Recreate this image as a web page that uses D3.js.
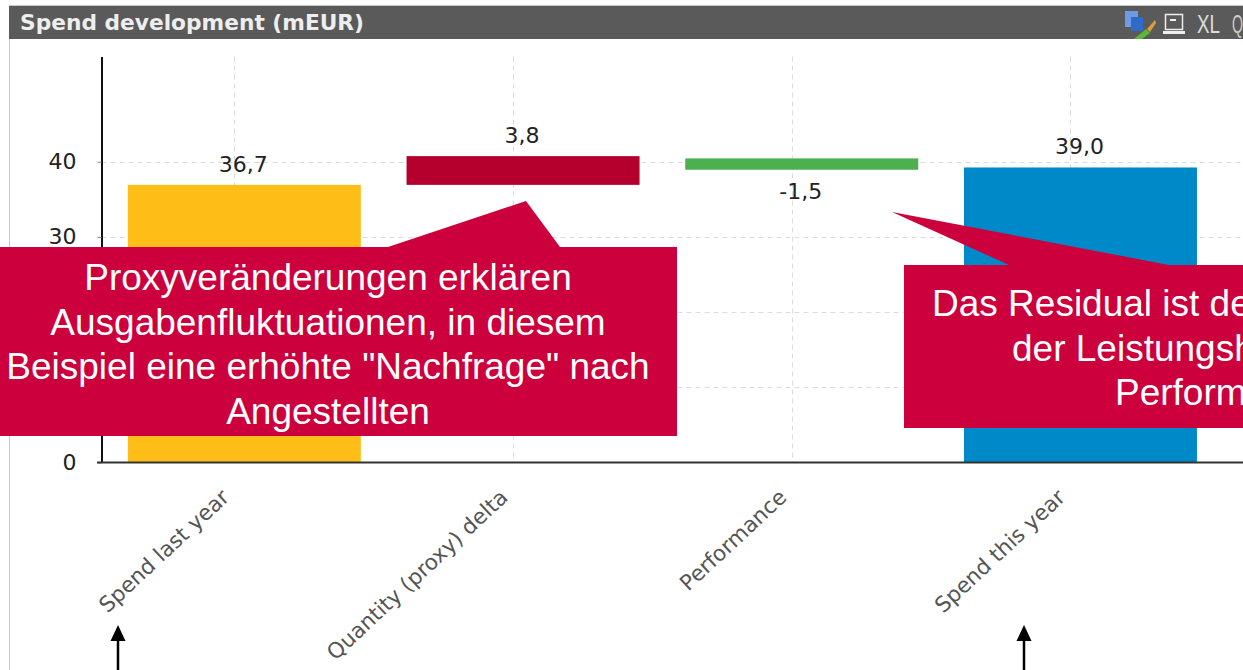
<!DOCTYPE html>
<html>
<head>
<meta charset="utf-8">
<script src="https://cdnjs.cloudflare.com/ajax/libs/d3/7.8.5/d3.min.js"></script>
<style>
  html, body { margin: 0; padding: 0; background: #fff; overflow: hidden; }
  svg { display: block; }
</style>
</head>
<body>
<div id="content"></div>
<script>
const categories = ["Spend last year", "Quantity (proxy) delta", "Performance", "Spend this year"]
const barStarts = [0, 36.7, 40.2, 0]
const barEnds = [36.7, 40.5, 38.7, 39.0]
const barLabels = ["36,7", "3,8", "-1,5", "39,0"]
const barColors = ["#ffbe17", "#b5002d", "#4caf50", "#0089c8"]
const gridTicks = [10, 20, 30, 40]
// 10 and 20 are hidden behind the callouts
const labelledTicks = [0, 30, 40]

const outerWidth = 1243
const outerHeight = 670
const calloutColor = "#cc003d"
const labelFont = "'DejaVu Sans', sans-serif"
const calloutFont = "'Liberation Sans', Arial, sans-serif"

const svg = d3.select("#content").append("svg")
    .attr("width", outerWidth)
    .attr("height", outerHeight)

// frame + title bar
svg.append("rect")
    .attr("x", 9.5)
    .attr("y", 5.5)
    .attr("width", outerWidth)
    .attr("height", outerHeight)
    .attr("fill", "#fff")
    .attr("stroke", "#c8c8c8")
svg.append("rect")
    .attr("x", 9)
    .attr("y", 6)
    .attr("width", outerWidth - 9)
    .attr("height", 33)
    .attr("fill", "#5a5a5a")
svg.append("text")
    .attr("x", 20)
    .attr("y", 30)
    .attr("fill", "#eee")
    .style("font-family", labelFont)
    .style("font-size", "21.5px")
    .style("font-weight", "700")
    .attr("textLength", 344)
    .attr("lengthAdjust", "spacingAndGlyphs")
    .text("Spend development (mEUR)")

// title bar icons
const icons = svg.append("g")
icons.append("rect").attr("x", 1125).attr("y", 11).attr("width", 13).attr("height", 16).attr("fill", "#6f9ae6")
icons.append("rect").attr("x", 1131).attr("y", 17).attr("width", 12).attr("height", 14).attr("fill", "#2f6cc8")
icons.append("path").attr("d", "M1134 39L1146 29L1150 33L1142 39Z").attr("fill", "#5cb832")
icons.append("path").attr("d", "M1147 29L1155 20L1156 23L1150 32Z").attr("fill", "#d8a040")
icons.append("rect").attr("x", 1165.5).attr("y", 14.5).attr("width", 17).attr("height", 15).attr("fill", "none").attr("stroke", "#eee").attr("stroke-width", 1.5)
icons.append("rect").attr("x", 1163).attr("y", 31).attr("width", 22).attr("height", 3).attr("fill", "#eee")
icons.append("rect").attr("x", 1170).attr("y", 19).attr("width", 6).attr("height", 2).attr("fill", "#eee")
icons.append("text").attr("x", 1197).attr("y", 33).attr("fill", "#ddd")
    .style("font-family", calloutFont).style("font-size", "25px").attr("textLength", 23).attr("lengthAdjust", "spacingAndGlyphs").text("XL")
icons.append("text").attr("x", 1232).attr("y", 33).attr("fill", "#ccc")
    .style("font-family", calloutFont).style("font-size", "25px").attr("textLength", 11).attr("lengthAdjust", "spacingAndGlyphs").text("Q")

// scales
const xScale = d3.scaleBand()
    .domain(categories)
    .range([105, 1219.8])
    .paddingInner(0.164)
    .paddingOuter(0.082)
const yScale = d3.scaleLinear()
    .domain([0, 54])
    .range([462.5, 56.5])
// the bars sit on a slightly taller scale than the axis in the screenshot
const barScale = d3.scaleLinear()
    .domain([0, 54])
    .range([462.5, 54])

const axisX = 101.5
const axisY = yScale(0)
const gridOffset = -10
const centerOf = d => xScale(d) + xScale.bandwidth() / 2

// grid
const grid = svg.append("g")
    .attr("stroke", "#dcdcdc")
    .attr("stroke-dasharray", "5,4")
grid.selectAll(".grid-y")
    .data(gridTicks)
    .enter().append("line")
    .attr("class", "grid-y")
    .attr("x1", axisX)
    .attr("x2", outerWidth)
    .attr("y1", d => Math.round(yScale(d)) + 0.5)
    .attr("y2", d => Math.round(yScale(d)) + 0.5)
grid.selectAll(".grid-x")
    .data(categories)
    .enter().append("line")
    .attr("class", "grid-x")
    .attr("x1", d => Math.round(centerOf(d) + gridOffset) + 0.5)
    .attr("x2", d => Math.round(centerOf(d) + gridOffset) + 0.5)
    .attr("y1", yScale.range()[1])
    .attr("y2", axisY)

// bars
svg.selectAll(".bar")
    .data(categories)
    .enter().append("rect")
    .attr("class", "bar")
    .attr("x", d => xScale(d))
    .attr("width", xScale.bandwidth())
    .attr("y", (d, i) => barScale(Math.max(barStarts[i], barEnds[i])))
    .attr("height", (d, i) => Math.abs(barScale(barStarts[i]) - barScale(barEnds[i])))
    .attr("fill", (d, i) => barColors[i])

// value labels, negative deltas go underneath
svg.selectAll(".value")
    .data(categories)
    .enter().append("text")
    .attr("class", "value")
    .attr("x", d => centerOf(d) - 1)
    .attr("y", (d, i) => barEnds[i] < barStarts[i]
        ? barScale(barEnds[i]) + 29.5
        : barScale(barEnds[i]) - 13)
    .attr("text-anchor", "middle")
    .attr("fill", "#222")
    .style("font-family", labelFont)
    .style("font-size", "22px")
    .text((d, i) => barLabels[i])

// axes
const yAxis = d3.axisLeft(yScale)
    .tickValues(labelledTicks)
    .tickSize(4)
    .tickSizeOuter(0)
    .tickPadding(21)
const yAxisGroup = svg.append("g")
    .attr("transform", `translate(${axisX}, 0)`)
    .call(yAxis)
yAxisGroup.selectAll("text")
    .attr("fill", "#222")
    .style("font-family", labelFont)
    .style("font-size", "22px")
yAxisGroup.selectAll("line").attr("stroke", "#888")
yAxisGroup.select(".domain").attr("stroke", "#111").attr("stroke-width", 2)

const xAxis = d3.axisBottom(xScale)
    .tickSize(0)
const xAxisGroup = svg.append("g")
    .attr("transform", `translate(0, ${axisY})`)
    .call(xAxis)
xAxisGroup.select(".domain")
    .attr("d", `M97,0H${outerWidth}`)
    .attr("stroke", "#333")
    .attr("stroke-width", 2)
xAxisGroup.selectAll("text")
    .attr("fill", "#555")
    .attr("text-anchor", "end")
    .attr("transform", "translate(-19, 31) rotate(-43)")
    .attr("y", 0)
    .attr("dy", "0.35em")
    .style("font-family", labelFont)
    .style("font-size", "21.5px")

// callouts
const callouts = svg.append("g").attr("fill", calloutColor)
callouts.append("path").attr("d", "M0 247H388L526 201L560 247H677V436H0Z")
callouts.append("path").attr("d", "M904 265H1009L892 212L1169 265H1243V428H904Z")

const leftLines = ["Proxyveränderungen erklären", "Ausgabenfluktuationen, in diesem", "Beispiel eine erhöhte \"Nachfrage\" nach", "Angestellten"]
const rightLines = [
    {text: "Das Residual ist de", x: 932},
    {text: "der Leistungsh", x: 1012},
    {text: "Perform", x: 1115},
]
svg.selectAll(".callout-left")
    .data(leftLines)
    .enter().append("text")
    .attr("class", "callout-left")
    .attr("x", 328)
    .attr("y", (d, i) => 290 + i * 44.5)
    .attr("text-anchor", "middle")
    .attr("fill", "#fff")
    .style("font-family", calloutFont)
    .style("font-size", "37px")
    .text(d => d)
svg.selectAll(".callout-right")
    .data(rightLines)
    .enter().append("text")
    .attr("class", "callout-right")
    .attr("x", d => d.x)
    .attr("y", (d, i) => 316 + i * 44.5)
    .attr("fill", "#fff")
    .style("font-family", calloutFont)
    .style("font-size", "37px")
    .text(d => d.text)

// arrows at the bottom
const arrowX = [118, 1024]
const arrows = svg.append("g")
arrows.selectAll("line")
    .data(arrowX)
    .enter().append("line")
    .attr("x1", d => d)
    .attr("x2", d => d)
    .attr("y1", 636)
    .attr("y2", outerHeight)
    .attr("stroke", "#000")
    .attr("stroke-width", 2.5)
arrows.selectAll("path")
    .data(arrowX)
    .enter().append("path")
    .attr("transform", d => `translate(${d}, 625)`)
    .attr("d", "M0 0L7.5 16H-7.5Z")
    .attr("fill", "#000")
</script>
</body>
</html>
